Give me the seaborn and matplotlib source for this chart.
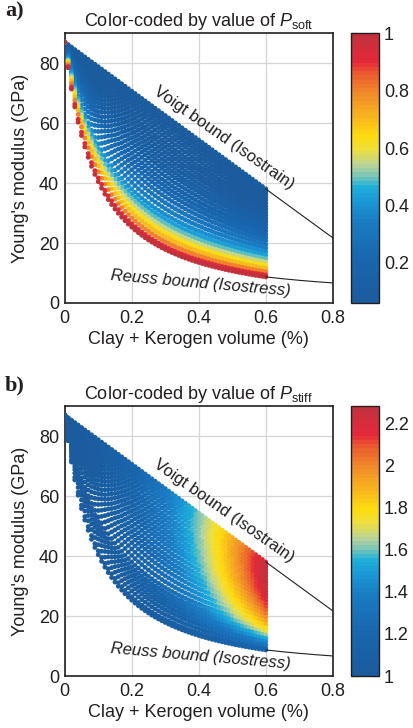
import numpy as np
import pandas as pd
import matplotlib
matplotlib.use('Agg')
import matplotlib.pyplot as plt
import seaborn as sns
from matplotlib.colors import LinearSegmentedColormap, Normalize
from matplotlib.cm import ScalarMappable

# end-member Young's moduli (GPa), read from the two bounds
E_mineral = 87.0
E_soft = 5.44

# clay + kerogen volume samples of every curve
clay_volume = [0.00, 0.01, 0.02, 0.03, 0.04, 0.05, 0.06, 0.07, 0.08, 0.09,
               0.10, 0.11, 0.12, 0.13, 0.14, 0.15, 0.16, 0.17, 0.18, 0.19,
               0.20, 0.21, 0.22, 0.23, 0.24, 0.25, 0.26, 0.27, 0.28, 0.29,
               0.30, 0.31, 0.32, 0.33, 0.34, 0.35, 0.36, 0.37, 0.38, 0.39,
               0.40, 0.41, 0.42, 0.43, 0.44, 0.45, 0.46, 0.47, 0.48, 0.49,
               0.50, 0.51, 0.52, 0.53, 0.54, 0.55, 0.56, 0.57, 0.58, 0.59,
               0.60]

# one value per curve (top curve = Voigt, bottom curve ends on Reuss)
p_soft = [0.0, 0.008, 0.016, 0.025, 0.035, 0.046, 0.058, 0.07, 0.083, 0.097,
          0.112, 0.128, 0.145, 0.165, 0.187, 0.21, 0.235, 0.265, 0.3, 0.34,
          0.385, 0.435, 0.49, 0.55, 0.62, 0.7, 0.8, 0.92, 1.0]
# P_stiff reached by each curve at 0.6 volume
p_stiff_end = [2.25, 2.26, 2.27, 2.28, 2.28, 2.28, 2.27, 2.26, 2.25, 2.24,
               2.23, 2.21, 2.19, 2.16, 2.13, 2.1, 2.06, 2.02, 1.97, 1.92,
               1.86, 1.79, 1.72, 1.63, 1.55, 1.45, 1.36, 1.27, 1.2]
stiff_growth = 1.8
# the softest curves are squeezed together at low volume
soft_pivot = 0.4
squeeze_start = 0.5

bound_volume = [0.6, 0.65, 0.7, 0.75, 0.8]

x_ticks = [0, 0.2, 0.4, 0.6, 0.8]
x_ticklabels = ['0', '0.2', '0.4', '0.6', '0.8']
y_ticks = [0, 20, 40, 60, 80]
soft_ticks = [0.2, 0.4, 0.6, 0.8, 1.0]
soft_ticklabels = ['0.2', '0.4', '0.6', '0.8', '1']
stiff_ticks = [1.0, 1.2, 1.4, 1.6, 1.8, 2.0, 2.2]
stiff_ticklabels = ['1', '1.2', '1.4', '1.6', '1.8', '2', '2.2']

# colormap taken from the colour bars
cmap = LinearSegmentedColormap.from_list('bar', [
    (0.00, '#1b5c9e'), (0.15, '#1865ad'), (0.30, '#1a7cc3'),
    (0.38, '#1a9ad6'), (0.43, '#1fb0d8'), (0.47, '#78c4b8'),
    (0.51, '#b7d49a'), (0.57, '#f0df3c'), (0.62, '#fcdc0f'),
    (0.70, '#f7b21f'), (0.78, '#f08a2a'), (0.85, '#ec5f2d'),
    (0.90, '#e5283a'), (1.00, '#c1313c')], N=64)


def modulus(x, p):
    # part of the soft material in series with a parallel mix of the rest
    if p > soft_pivot:
        w = squeeze_start + (1 - squeeze_start) * x / 0.6
        p = soft_pivot + (p - soft_pivot) * w
    series = x * p
    parallel = ((1 - x) * E_mineral + x * (1 - p) * E_soft) / (1 - series)
    return 1.0 / (series / E_soft + (1 - series) / parallel)


rows = []
for ps, pe in zip(p_soft, p_stiff_end):
    for x in clay_volume:
        rows.append({'volume': x, 'E': modulus(x, ps), 'P_soft': ps,
                     'P_stiff': 1 + (pe - 1) * (x / 0.6) ** stiff_growth})
df = pd.DataFrame(rows)

bv = np.array(bound_volume)
voigt = (1 - bv) * E_mineral + bv * E_soft
reuss = 1.0 / ((1 - bv) / E_mineral + bv / E_soft)

sns.set_style('white')
plt.rcParams['font.family'] = ['Liberation Sans', 'DejaVu Sans']
plt.rcParams['mathtext.fontset'] = 'custom'
plt.rcParams['mathtext.rm'] = 'Liberation Sans'
plt.rcParams['mathtext.it'] = 'Liberation Sans:italic'
text_color = '#231f20'
fs = 13

fig = plt.figure(figsize=(4.13, 7.28), dpi=100)

panels = [
    ('a)', 'P_soft', r'Color-coded by value of $P_{\mathrm{soft}}$',
     Normalize(0.06, 1.0), soft_ticks, soft_ticklabels, 0.5838),
    ('b)', 'P_stiff', r'Color-coded by value of $P_{\mathrm{stiff}}$',
     Normalize(1.0, 2.28), stiff_ticks, stiff_ticklabels, 0.0714),
]

for letter, col, title, norm, cticks, clabels, bottom in panels:
    ax = fig.add_axes([0.1567, bottom, 0.649, 0.3705])
    cax = fig.add_axes([0.85, bottom, 0.068, 0.3705])

    sns.scatterplot(data=df, x='volume', y='E', hue=col, palette=cmap,
                    hue_norm=norm, s=12, linewidth=0, marker='o',
                    legend=False, ax=ax, zorder=3)
    ax.plot(bound_volume, voigt, color='#231f20', lw=0.8, zorder=4)
    ax.plot(bound_volume, reuss, color='#231f20', lw=0.8, zorder=4)

    ax.set_xlim(0, 0.8)
    ax.set_ylim(0, 90)
    ax.set_xticks(x_ticks)
    ax.set_xticklabels(x_ticklabels)
    ax.set_yticks(y_ticks)
    ax.grid(True, color='#d6d6d6', lw=0.9, zorder=0)
    ax.set_axisbelow(True)
    ax.tick_params(labelsize=fs, colors=text_color, length=0)
    ax.tick_params(axis='x', pad=5)
    ax.tick_params(axis='y', pad=4)
    for sp in ax.spines.values():
        sp.set_color('#231f20')
        sp.set_linewidth(1.2)
    ax.set_xlabel('Clay + Kerogen volume (%)', fontsize=fs, color=text_color, labelpad=3)
    ax.set_ylabel("Young's modulus (GPa)", fontsize=fs, color=text_color, labelpad=7)
    ax.set_title(title, fontsize=fs, color=text_color, pad=5)

    ax.text(0.475, 55.0, 'Voigt bound (Isostrain)', rotation=-35,
            rotation_mode='anchor', ha='center', va='center',
            fontsize=12, color=text_color)
    ax.text(0.405, 6.6, 'Reuss bound (Isostress)', rotation=-5,
            rotation_mode='anchor', ha='center', va='center',
            fontsize=12, style='italic', color=text_color)

    cb = fig.colorbar(ScalarMappable(norm=norm, cmap=cmap), cax=cax)
    cb.set_ticks(cticks)
    cb.set_ticklabels(clabels)
    cb.outline.set_edgecolor('#231f20')
    cb.outline.set_linewidth(1.0)
    cax.tick_params(labelsize=fs, colors=text_color, direction='in',
                    length=4, left=True, right=True, width=0.8)

    fig.text(0.012, bottom + 0.3705 + 0.043, letter, fontsize=16,
             fontweight='bold', family=['Liberation Serif', 'DejaVu Serif'],
             color=text_color, va='top')

fig.savefig('out.png', dpi=100)
